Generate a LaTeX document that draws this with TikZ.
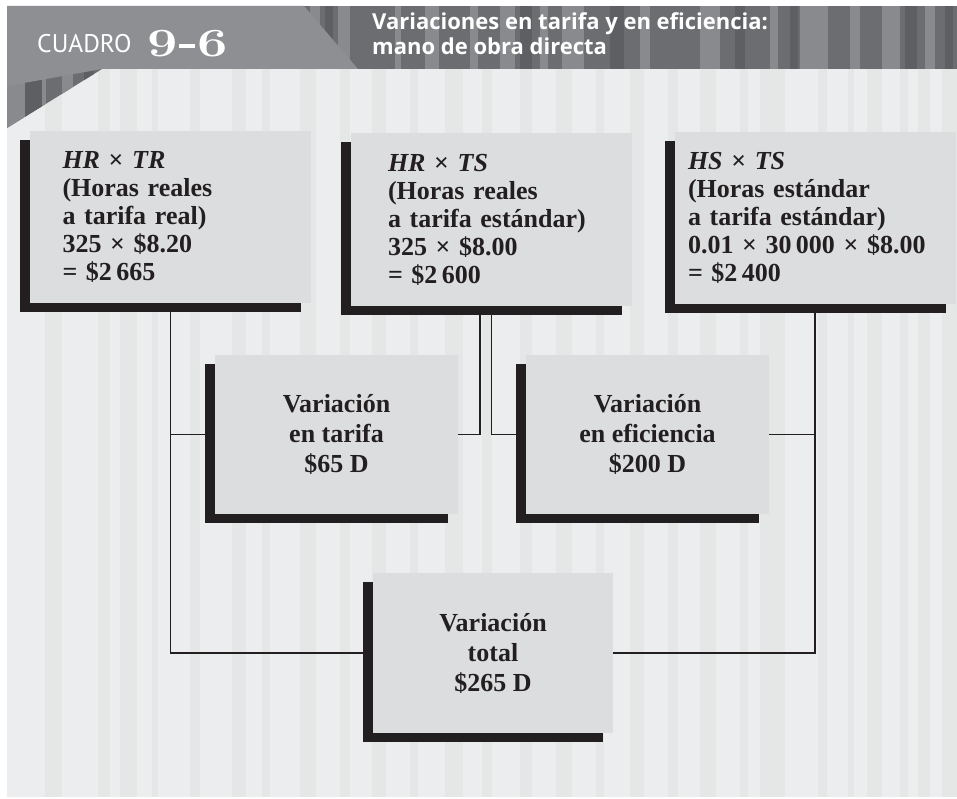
\documentclass[tikz,border=0pt]{standalone}
\usepackage{fontspec}
\newfontfamily\cajafont{Liberation Serif}
\newfontfamily\titulofont{Open Sans}
\newfontfamily\cuadrofont{PT Sans}
\usetikzlibrary{shadows}

\definecolor{fondo}{HTML}{ECEDEF}
\definecolor{rayaclara}{HTML}{E5E7E6}
\definecolor{cabecera}{HTML}{6C6D70}
\definecolor{rayacab}{HTML}{898A8D}
\definecolor{rayaosc}{HTML}{5E5F62}
\definecolor{etiqueta}{HTML}{8E8F92}
\definecolor{cajagris}{HTML}{DCDDDF}
\definecolor{tinta}{HTML}{231F20}

\tikzset{
  caja/.style={rectangle, fill=cajagris, inner sep=0pt, text=tinta,
    drop shadow={shadow xshift=-10pt, shadow yshift=-9pt, fill=tinta, opacity=1}},
  arriba/.style={caja, minimum width=281, minimum height=172, text width=#1, align=left,
    font=\cajafont\bfseries\fontsize{26}{28}\selectfont},
  variacion/.style={caja, minimum width=243, minimum height=159, align=center,
    font=\cajafont\bfseries\fontsize{26}{30}\selectfont},
  linea/.style={tinta, line width=1.8pt},
}

\begin{document}
\begin{tikzpicture}[x=1pt, y=-1pt]
    \useasboundingbox (0,0) rectangle (957,799);
    \fill[white] (0,0) rectangle (957,799);

    % 背景
    \fill[fondo] (7,69) rectangle (957,797);
    \foreach \x/\w in {45/17, 98/12, 120/17, 152/6, 190/10, 232/14, 262/8, 300/16, 340/10, 372/14,
        410/8, 445/18, 482/10, 520/12, 556/16, 596/8, 630/14, 668/10, 700/16, 740/8, 760/25,
        818/9, 848/6, 867/15, 900/8, 918/12, 942/15}
        \fill[rayaclara] (\x,69) rectangle ++(\w,728);

    % 标题栏
    \begin{scope}
        \clip (7,6) -- (957,6) -- (957,69) -- (102,69) -- (7,128) -- cycle;
        \fill[cabecera] (7,6) rectangle (957,128);
        \foreach \x/\w in {7/18, 42/4, 62/11, 310/10, 338/12, 395/6, 425/14, 470/8, 500/15, 540/8,
            562/22, 640/10, 700/20, 770/8, 800/28, 850/10, 882/18, 925/10}
            \fill[rayacab] (\x,6) rectangle ++(\w,122);
        \foreach \x/\w in {25/17, 84/10, 325/8, 520/12, 610/14, 735/10, 790/8, 905/12, 945/8}
            \fill[rayaosc] (\x,6) rectangle ++(\w,122);
    \end{scope}
    \fill[etiqueta] (7,6) -- (304,6) -- (358,69) -- (102,69) -- (7,86) -- cycle;

    \node[anchor=base west, inner sep=0pt, text=white, font=\cuadrofont\fontsize{25.5}{26}\selectfont]
        (cuadro) at (37,53) {CUADRO};
    \node[anchor=base west, inner sep=0pt, text=white, font=\bfseries\fontsize{40}{40}\selectfont]
        (numero) at (147,57) {\scalebox{1.35}[1.0]{9\kern0.03em\rule[0.22em]{0.3em}{0.1em}\kern0.03em6}};
    \node[anchor=north west, inner sep=0pt, align=left, text=white,
        font=\titulofont\bfseries\fontsize{22}{25}\selectfont]
        (titulo) at (372,12) {Variaciones en tarifa y en eficiencia:\\mano de obra directa};

    % 三个计算框
    \node[arriba=216] (hrtr) at (170.5,217) {{\itshape HR} × {\itshape TR}\\(Horas reales\\a tarifa real)\\325 × \$8.20\\= \$2\,665};
    \node[arriba=207] (hrts) at (491.5,219.5) {{\itshape HR} × {\itshape TS}\\(Horas reales\\a tarifa estándar)\\325 × \$8.00\\= \$2\,600};
    \node[arriba=254] (hsts) at (815,218) {{\itshape HS} × {\itshape TS}\\(Horas estándar\\a tarifa estándar)\\0.01 × 30\,000 × \$8.00\\= \$2\,400};

    % 差异框
    \node[variacion] (tarifa) at (336.5,434.5) {Variación\\en tarifa\\\$65 D};
    \node[variacion] (eficiencia) at (647.5,434.5) {Variación\\en eficiencia\\\$200 D};
    \node[variacion, minimum width=240, minimum height=160] (total) at (493,653) {Variación\\total\\\$265 D};

    % 连线
    \draw[linea] (hrtr.south) |- (total.west);
    \draw[linea] (hrtr.south |- tarifa.west) -- (tarifa.west);
    \draw[linea] ([xshift=-11.5pt]hrts.south) |- (tarifa.east);
    \draw[linea] (hrts.south) |- (eficiencia.west);
    \draw[linea] (hsts.south) |- (total.east);
    \draw[linea] (hsts.south |- eficiencia.east) -- (eficiencia.east);
\end{tikzpicture}
\end{document}
